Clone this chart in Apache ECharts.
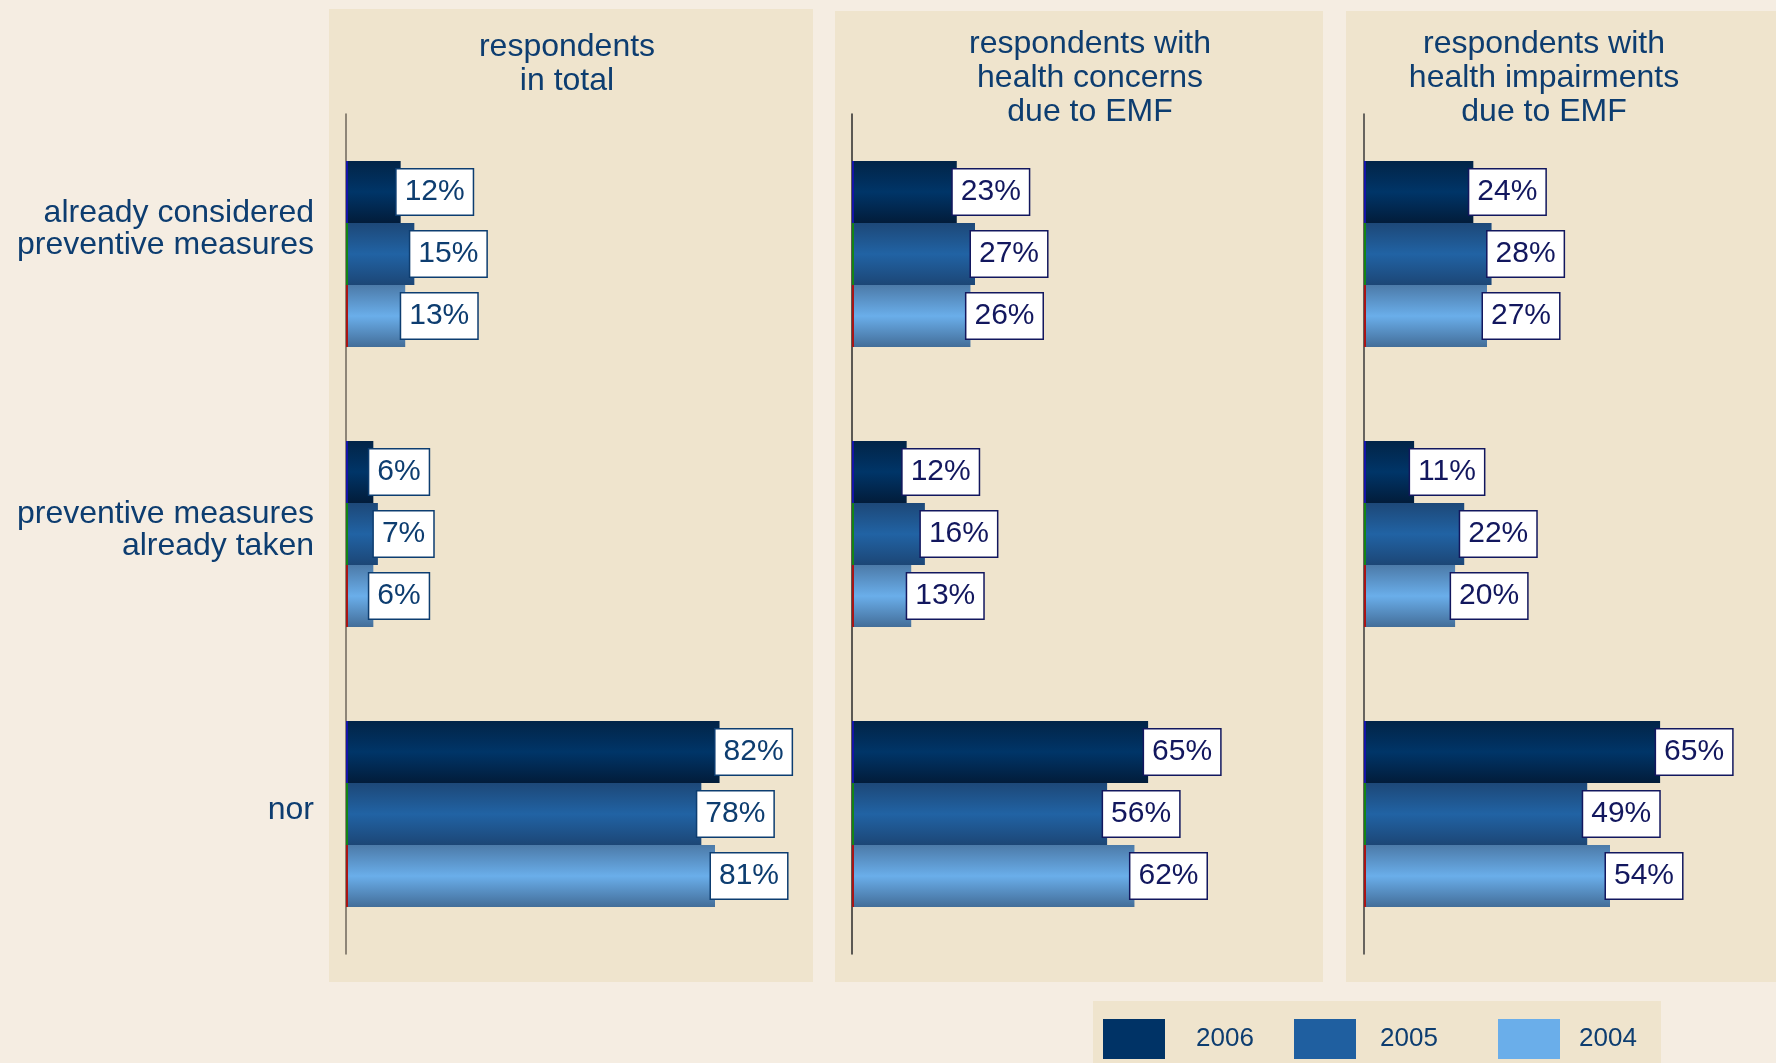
<!DOCTYPE html>
<html>
<head>
<meta charset="utf-8">
<title>Preventive measures against EMF</title>
<script src="https://cdn.jsdelivr.net/npm/echarts@6/dist/echarts.min.js"></script>
<style>
  html, body { margin: 0; padding: 0; background: #f5ede2; }
  #chart { width: 1776px; height: 1063px; }
</style>
</head>
<body>
<div id="chart"></div>
<script>
// Answer categories (rows) and the three respondent groups (panels)
const categories = [
  'already considered\npreventive measures',
  'preventive measures\nalready taken',
  'nor'
];
const panelTitles = [
  'respondents\nin total',
  'respondents with\nhealth concerns\ndue to EMF',
  'respondents with\nhealth impairments\ndue to EMF'
];
const years = ['2006', '2005', '2004'];

// Shares in percent, per survey year
const total2006 = [12, 6, 82];
const total2005 = [15, 7, 78];
const total2004 = [13, 6, 81];
const concerns2006 = [23, 12, 65];
const concerns2005 = [27, 16, 56];
const concerns2004 = [26, 13, 62];
const impair2006 = [24, 11, 65];
const impair2005 = [28, 22, 49];
const impair2004 = [27, 20, 54];

const panelData = [
  [total2006, total2005, total2004],
  [concerns2006, concerns2005, concerns2004],
  [impair2006, impair2005, impair2004]
];

const FONT = '"Liberation Sans", Arial, Helvetica, sans-serif';
const NAVY = '#0d3d70';
const PANEL_BG = '#efe4cd';
const CAT_GAP = 0.335;

// Bar fills: shaded across the bar thickness
function shade(edgeTop, mid, edgeBottom) {
  return new echarts.graphic.LinearGradient(0, 0, 0, 1, [
    { offset: 0, color: edgeTop },
    { offset: 0.5, color: mid },
    { offset: 1, color: edgeBottom }
  ]);
}
const barFills = [
  shade('#022447', '#003568', '#021c3a'),
  shade('#1d4878', '#2163a4', '#1c4676'),
  shade('#4c7aa8', '#6aaeea', '#436d98')
];
const swatchColors = ['#003366', '#1f5fa0', '#6aaeea'];
const baseStripColors = ['#1414a8', '#148414', '#a81414'];

const gridLeft = [346, 852, 1364];
const axisColors = ['#6e665a', '#2a2a2a', '#3a3a3a'];
const labelInk = ['#0d3d70', '#12175e', '#12175e'];
// extra space under each row label, lifting it off the row centre
const labelLift = [50, 8, 8];

const grids = gridLeft.map(l => ({ left: l, top: 114, width: 410, height: 840 }));

const xAxes = gridLeft.map((_, p) => ({
  type: 'value', gridIndex: p, min: 0, max: 90, show: false
}));

const yAxes = gridLeft.map((_, p) => ({
  type: 'category',
  gridIndex: p,
  inverse: true,
  data: categories,
  axisLine: { show: true, lineStyle: { color: axisColors[p], width: 1.5 } },
  axisTick: { show: false },
  splitLine: { show: false },
  axisLabel: {
    show: p === 0,
    margin: 32,
    align: 'right',
    formatter: function (value, index) {
      const lines = value.split('\n').map(s => '{t|' + s + '}').join('\n');
      return lines + '\n{g' + index + '| }';
    },
    rich: {
      t: { fontSize: 32, lineHeight: 32, color: NAVY, fontFamily: FONT, align: 'right' },
      g0: { fontSize: 4, lineHeight: labelLift[0] },
      g1: { fontSize: 4, lineHeight: labelLift[1] },
      g2: { fontSize: 4, lineHeight: labelLift[2] }
    }
  }
}));

const series = [];
panelData.forEach((rows, p) => {
  rows.forEach((values, k) => {
    series.push({
      type: 'bar',
      name: years[k],
      xAxisIndex: p,
      yAxisIndex: p,
      data: values,
      barGap: '0%',
      barCategoryGap: (CAT_GAP * 100) + '%',
      itemStyle: { color: barFills[k] },
      label: {
        show: true,
        position: 'right',
        distance: -4,
        formatter: '{c}%',
        fontSize: 30,
        lineHeight: 32,
        fontFamily: FONT,
        color: labelInk[p],
        backgroundColor: '#ffffff',
        borderColor: labelInk[p],
        borderWidth: 1.5,
        padding: [7, 8, 6, 8]
      },
      z: 2
    });
  });
  // thin coloured strips at the base of each bar
  series.push({
    type: 'custom',
    name: 'base' + p,
    xAxisIndex: p,
    yAxisIndex: p,
    data: categories.map((c, i) => [0, i]),
    encode: { x: 0, y: 1 },
    z: 5,
    silent: true,
    renderItem: function (params, api) {
      const pt = api.coord([0, api.value(1)]);
      const band = api.size([0, 1])[1];
      const groupH = band * (1 - CAT_GAP);
      const barH = groupH / 3;
      return {
        type: 'group',
        children: baseStripColors.map((col, k) => ({
          type: 'rect',
          shape: { x: pt[0], y: pt[1] - groupH / 2 + k * barH, width: 2, height: barH },
          style: { fill: col }
        }))
      };
    }
  });
});

// Legends placed one per year
const legendSpots = [
  { left: 1103, pad: 26 },
  { left: 1294, pad: 19 },
  { left: 1498, pad: 14 }
];
const legends = years.map((y, k) => ({
  left: legendSpots[k].left,
  top: 1019,
  padding: 0,
  orient: 'horizontal',
  itemWidth: 62,
  itemHeight: 40,
  icon: 'rect',
  selectedMode: false,
  data: [{ name: y, itemStyle: { color: swatchColors[k] } }],
  textStyle: {
    fontSize: 26,
    color: NAVY,
    fontFamily: FONT,
    padding: [6, 0, 0, legendSpots[k].pad]
  }
}));

const panels = [
  { x: 329, y: 9, w: 484, h: 973 },
  { x: 835, y: 11, w: 488, h: 971 },
  { x: 1346, y: 11, w: 430, h: 971 }
];
const titleSpots = [
  { x: 567, y: 30 },
  { x: 1090, y: 27 },
  { x: 1544, y: 27 }
];

const graphics = panels.map(r => ({
  type: 'rect', z: -10,
  shape: { x: r.x, y: r.y, width: r.w, height: r.h },
  style: { fill: PANEL_BG }
}));
graphics.push({
  type: 'rect', z: -10,
  shape: { x: 1093, y: 1001, width: 568, height: 70 },
  style: { fill: PANEL_BG }
});
panelTitles.forEach((t, p) => {
  graphics.push({
    type: 'text', z: 10,
    x: titleSpots[p].x, y: titleSpots[p].y,
    style: {
      text: t,
      fill: NAVY,
      fontSize: 32,
      fontFamily: FONT,
      lineHeight: 34,
      align: 'center',
      verticalAlign: 'top'
    }
  });
});

const chart = echarts.init(document.getElementById('chart'), null, { renderer: 'canvas' });
chart.setOption({
  backgroundColor: '#f5ede2',
  animation: false,
  grid: grids,
  xAxis: xAxes,
  yAxis: yAxes,
  legend: legends,
  graphic: graphics,
  series: series
});
</script>
</body>
</html>
